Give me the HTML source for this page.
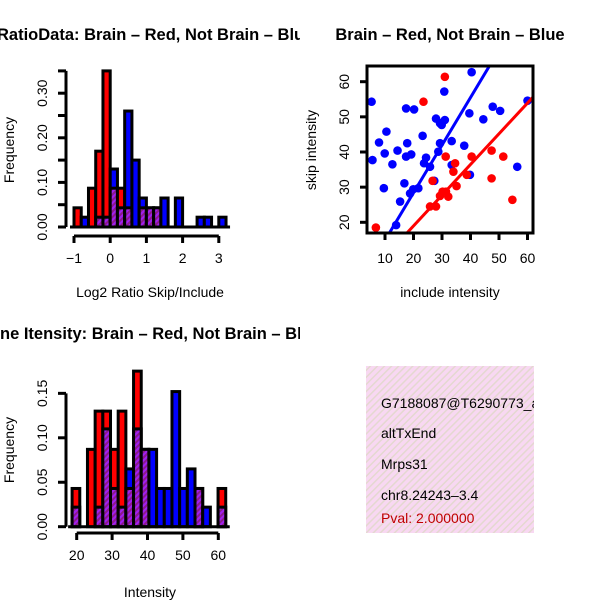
<!DOCTYPE html>
<html><head><meta charset="utf-8"><style>
html,body{margin:0;padding:0;background:#fff;}
svg{display:block;font-family:"Liberation Sans",sans-serif;}
</style></head><body>
<svg id="c" width="600" height="600" viewBox="0 0 600 600">
<defs>
<pattern id="hatch" width="4" height="4" patternUnits="userSpaceOnUse" patternTransform="rotate(45)">
<rect width="4" height="4" fill="#a020f0"/><rect width="2" height="4" fill="#8b1a8b"/></pattern>
<pattern id="pink" width="5" height="5" patternUnits="userSpaceOnUse" patternTransform="rotate(45)">
<rect width="5" height="5" fill="#f8d8f2"/><rect width="1.5" height="5" fill="#e4d8d0"/></pattern>
<clipPath id="boxClip"><rect x="366" y="366" width="168" height="167"/></clipPath>
<clipPath id="leftClip"><rect x="0" y="0" width="300" height="600"/></clipPath>
</defs>
<text x="-3" y="40" font-size="16.5" font-weight="bold" clip-path="url(#leftClip)">RatioData: Brain – Red, Not Brain – Blue</text>
<text x="450" y="40" text-anchor="middle" font-size="16.5" font-weight="bold">Brain – Red, Not Brain – Blue</text>
<text x="-22" y="339" font-size="16.5" font-weight="bold" clip-path="url(#leftClip)">Gene Itensity: Brain – Red, Not Brain – Blue</text>
<text x="150" y="297" text-anchor="middle" font-size="14">Log2 Ratio Skip/Include</text>
<text x="150" y="597" text-anchor="middle" font-size="14">Intensity</text>
<text x="450" y="297" text-anchor="middle" font-size="14">include intensity</text>
<text transform="translate(14,150) rotate(-90)" text-anchor="middle" font-size="14">Frequency</text>
<text transform="translate(14,450) rotate(-90)" text-anchor="middle" font-size="14">Frequency</text>
<text transform="translate(316,150) rotate(-90)" text-anchor="middle" font-size="14">skip intensity</text>
<g clip-path="url(#boxClip)">
<rect x="366" y="366" width="168" height="167" fill="url(#pink)"/>
<text x="381" y="408" font-size="14">G7188087@T6290773_alt</text>
<text x="381" y="438" font-size="14">altTxEnd</text>
<text x="381" y="469" font-size="14">Mrps31</text>
<text x="381" y="500" font-size="14">chr8.24243–3.4</text>
<text x="381" y="523" font-size="14" fill="#c00000">Pval: 2.000000</text>
</g>
<g id="g1"></g><g id="g2"></g><g id="g3"></g>
</svg>
<script>
// ratio histogram
const ratioStart = -1.0, ratioBinW = 0.2;
const ratioRed  = [0.043,0,0.087,0.17,0.35,0.087,0.087,0.043,0,0.043,0.043,0.043,0,0,0,0,0,0,0,0,0];
const ratioBlue = [0,0.022,0,0.022,0.022,0.13,0.043,0.26,0.15,0.065,0.043,0.043,0.065,0,0.065,0,0,0.022,0.022,0,0.022];
const ratioXTicks = [-1,0,1,2,3];
const ratioYTicks = ["0.00","0.10","0.20","0.30"];
// intensity histogram
const intStart = 18.7, intBinW = 2.17;
const intRed  = [0.043,0,0.087,0.13,0.13,0.087,0.13,0.043,0.175,0.087,0,0,0,0,0,0,0.043,0,0,0.043];
const intBlue = [0.022,0,0,0.022,0.11,0.043,0.022,0.065,0.11,0.087,0.087,0.043,0.043,0.152,0.043,0.065,0.043,0.022,0,0.022];
const intXTicks = [20,30,40,50,60];
const intYTicks = ["0.00","0.05","0.10","0.15"];
// scatter
const blueX = [5.3,5.6,7.9,9.6,9.9,10.5,12.6,14.4,13.9,15.3,16.8,17.4,17.8,17.4,19.2,20.2,18.8,19.9,21.7,23.2,23.7,24.4,25.8,27.3,27.9,28.7,29.3,29.3,29.9,31,30.8,33.4,33.4,37.8,39.8,39.6,40.4,44.5,47.8,50.4,56.4,60];
const blueY = [54.3,37.7,42.7,29.7,39.6,45.8,36.5,40.4,19.2,25.9,31.1,52.4,42.5,38.7,39.3,52.1,28.2,29.4,29.7,44.6,36.8,38.4,35.8,31.8,49.5,40.1,42.5,48.2,47.7,49.1,57.2,43.1,36.3,41.8,33.5,51,62.7,49.3,52.9,51.7,35.8,54.6];
const redX = [6.8,23.5,31,31.3,26.7,25.8,27.9,29.3,30.2,31.4,32.2,34,34.6,35.1,38.7,40.4,47.4,47.4,51.5,54.7];
const redY = [18.5,54.3,61.4,38.7,31.8,24.5,24.5,27.5,28.7,28.7,27.3,34.4,36.8,30.3,33.5,38.7,40.4,32.5,38.7,26.4];
const blueFit = [1.33,1.354]; // intercept, slope
const redFit = [1.49,0.874];
const scXTicks = [10,20,30,40,50,60];
const scYTicks = [20,30,40,50,60];

const NS="http://www.w3.org/2000/svg";
function mk(p,t,a){const e=document.createElementNS(NS,t);for(const k in a)e.setAttribute(k,a[k]);p.appendChild(e);return e;}

function hist(g,start,w,red,blue,xs,ys,x0px,xPerUnit,y0px,yPerUnit,axisY,name){
  const X=v=>x0px+(v-start)*xPerUnit, Y=v=>y0px-v*yPerUnit;
  for(let i=0;i<red.length;i++){
    const r=red[i],b=blue[i];if(r===0&&b===0)continue;
    const xl=X(start+i*w), xr=X(start+(i+1)*w);
    const hi=Math.max(r,b), lo=Math.min(r,b);
    const bar=mk(g,'rect',{x:xl,y:Y(hi),width:xr-xl,height:Y(0)-Y(hi),fill:r>=b?'#ff0000':'#0000ff',stroke:'#000','stroke-width':3});
    
    
    if(lo>0){const ov=mk(g,'rect',{x:xl,y:Y(lo),width:xr-xl,height:Y(0)-Y(lo),fill:'url(#hatch)',stroke:'#000','stroke-width':3});
      
      }
  }
  mk(g,'line',{x1:X(start)-4,x2:X(start+red.length*w)+4,y1:Y(0),y2:Y(0),stroke:'#000','stroke-width':3});
  const allY=name==='ratio'?[0,0.05,0.1,0.15,0.2,0.25,0.3,0.35]:[0,0.05,0.1,0.15];
  mk(g,'line',{x1:66,x2:66,y1:Y(0),y2:Y(allY[allY.length-1]),stroke:'#000','stroke-width':3});
  allY.forEach(v=>mk(g,'line',{x1:58,x2:66,y1:Y(v),y2:Y(v),stroke:'#000','stroke-width':3}));
  ys.forEach(s=>{const t=mk(g,'text',{transform:`translate(47,${Y(+s)}) rotate(-90)`,'text-anchor':'middle','font-size':14});t.textContent=s;
    });
  const tx=v=>xs.xpx(v);
  mk(g,'line',{x1:tx(xs.v[0]),x2:tx(xs.v[xs.v.length-1]),y1:axisY,y2:axisY,stroke:'#000','stroke-width':3});
  xs.v.forEach(v=>{mk(g,'line',{x1:tx(v),x2:tx(v),y1:axisY,y2:axisY+7,stroke:'#000','stroke-width':3});
    const t=mk(g,'text',{x:tx(v),y:axisY+27,'text-anchor':'middle','font-size':14});t.textContent=v<0?'−'+(-v):v;
    });
}
const g1=document.getElementById('g1');
hist(g1,ratioStart,ratioBinW,ratioRed,ratioBlue,{v:ratioXTicks,xpx:v=>74+(v+1)*36.2},ratioYTicks,74,36.2,227,446,236,'ratio');
const g2=document.getElementById('g2');
hist(g2,intStart,intBinW,intRed,intBlue,{v:intXTicks,xpx:v=>76.7+(v-20)*3.54},intYTicks,76.7+(intStart-20)*3.54,3.54,526.7,889,533,'intensity');

const g3=document.getElementById('g3');
const SX=v=>385+(v-10)*2.85, SY=v=>222.3-(v-20)*3.515;
const cp=mk(g3,'clipPath',{id:'scClip'});mk(cp,'rect',{x:367,y:66,width:166,height:167});
const pg=mk(g3,'g',{'clip-path':'url(#scClip)'});
blueX.forEach((x,i)=>{const c=mk(pg,'circle',{cx:SX(x),cy:SY(blueY[i]),r:4.3,fill:'#0000ff'});
  });
redX.forEach((x,i)=>{const c=mk(pg,'circle',{cx:SX(x),cy:SY(redY[i]),r:4.3,fill:'#ff0000'});
  });
[[blueFit,'#0000ff','blue-fit-line'],[redFit,'#ff0000','red-fit-line']].forEach(([f,col,n])=>{
  const l=mk(pg,'line',{x1:SX(0),y1:SY(f[0]),x2:SX(70),y2:SY(f[0]+f[1]*70),stroke:col,'stroke-width':3});
  });
mk(g3,'rect',{x:367,y:66,width:166,height:167,fill:'none',stroke:'#000','stroke-width':3});
scXTicks.forEach(v=>{mk(g3,'line',{x1:SX(v),x2:SX(v),y1:233,y2:240,stroke:'#000','stroke-width':3});
  const t=mk(g3,'text',{x:SX(v),y:263,'text-anchor':'middle','font-size':14});t.textContent=v;
  });
scYTicks.forEach(v=>{mk(g3,'line',{x1:360,x2:367,y1:SY(v),y2:SY(v),stroke:'#000','stroke-width':3});
  const t=mk(g3,'text',{transform:`translate(349,${SY(v)}) rotate(-90)`,'text-anchor':'middle','font-size':14});t.textContent=v;
  });
</script>
</body></html>
